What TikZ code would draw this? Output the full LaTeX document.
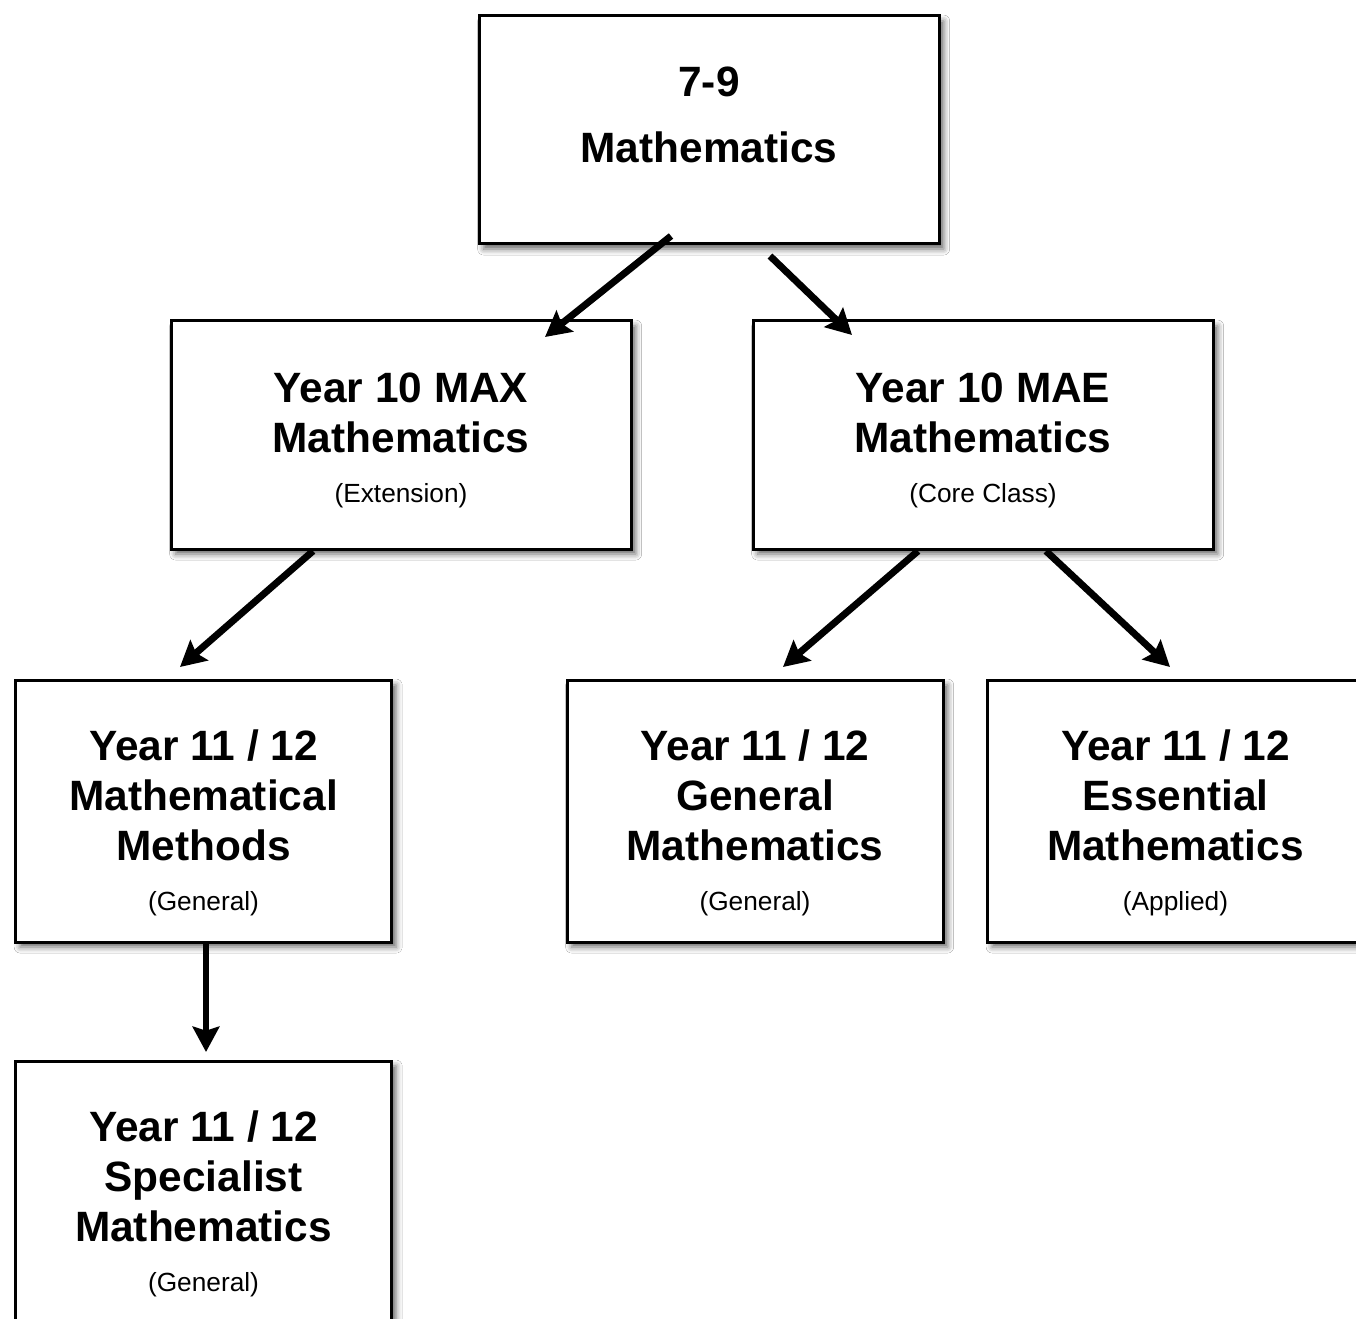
\documentclass[tikz,border=0pt]{standalone}
\usepackage{fontspec}
\setmainfont{Liberation Sans}
\usetikzlibrary{arrows.meta,shadows.blur}
\begin{document}
\begin{tikzpicture}[x=0.75pt,y=-0.75pt,
  box/.style={draw=black,line width=2.25pt,fill=white,inner sep=0pt,align=center,
    font=\fontsize{31.8}{37.5}\selectfont\bfseries,
    blur shadow={shadow xshift=3.5pt,shadow yshift=-3.8pt,shadow blur radius=4.5pt,shadow opacity=60}},
  bigbox/.style={box,minimum width=345pt,minimum height=171pt},
  tallbox/.style={box,minimum width=282pt,minimum height=196.5pt},
  arr/.style={line width=5.2pt,-{Stealth[length=19pt,width=20pt,inset=3pt]}}]
\newcommand{\smalltxt}[1]{{\fontsize{19.7}{24}\mdseries\selectfont #1}}
\newcommand{\tallstrut}{\rule{0pt}{40.5pt}}
\newcommand{\midstrut}{\rule{0pt}{31pt}}
\clip (0,0) rectangle (1356,1319);
\fill[white] (0,0) rectangle (1356,1319);
\node[bigbox] (top) at (709,130) {7-9\\[12pt]Mathematics\rule[-22.5pt]{0pt}{0pt}};
\node[bigbox] (max) at (401,435) {\midstrut Year 10 MAX\\Mathematics\\\smalltxt{(Extension)}};
\node[bigbox] (mae) at (983,435) {\midstrut Year 10 MAE\\Mathematics\\\smalltxt{(Core Class)}};
\node[tallbox] (meth) at (203.5,811) {\tallstrut Year 11 / 12\\Mathematical\\Methods\\\smalltxt{(General)}};
\node[tallbox] (gen) at (755,811) {\tallstrut Year 11 / 12\\General\\Mathematics\\\smalltxt{(General)}};
\node[tallbox] (ess) at (1175.5,811) {\tallstrut Year 11 / 12\\Essential\\Mathematics\\\smalltxt{(Applied)}};
\node[tallbox] (spec) at (203.5,1192) {\tallstrut Year 11 / 12\\Specialist\\Mathematics\\\smalltxt{(General)}};
\coordinate (a1s) at (671,236); \coordinate (a1e) at (545,337);
\coordinate (a2s) at (770,256); \coordinate (a2e) at (852,335);
\coordinate (a3s) at (313,551); \coordinate (a3e) at (180,667);
\coordinate (a4s) at (918,551); \coordinate (a4e) at (783,667);
\coordinate (a5s) at (1046,551); \coordinate (a5e) at (1170,667);
\coordinate (a6s) at (206,944); \coordinate (a6e) at (206,1052);
\draw[arr] (a1s) -- (a1e);
\draw[arr] (a2s) -- (a2e);
\draw[arr] (a3s) -- (a3e);
\draw[arr] (a4s) -- (a4e);
\draw[arr] (a5s) -- (a5e);
\draw[arr] (a6s) -- (a6e);
\end{tikzpicture}
\end{document}
